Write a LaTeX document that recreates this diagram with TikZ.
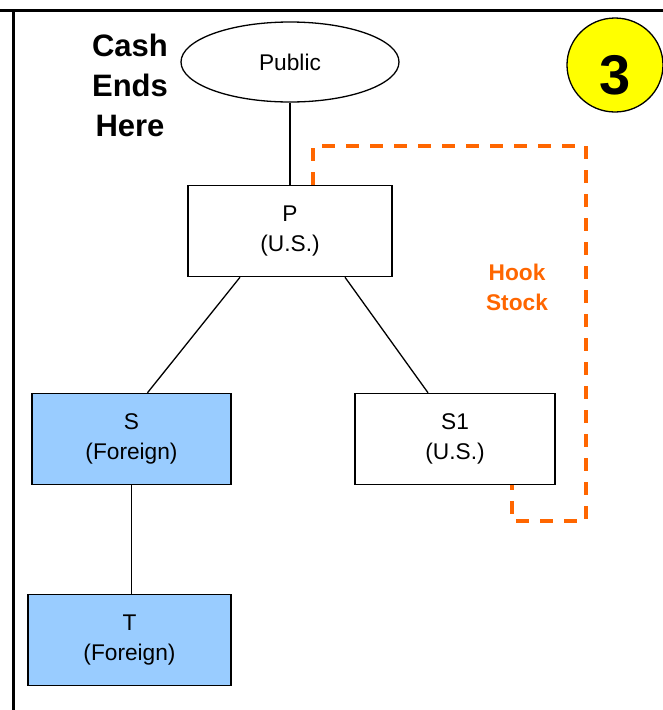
\documentclass[tikz,border=0pt]{standalone}
\usepackage{fontspec}
\setmainfont{Liberation Sans}
\usetikzlibrary{shapes.geometric, calc}
\definecolor{foreignblue}{HTML}{99CCFF}
\definecolor{hookorange}{HTML}{FF6600}
\definecolor{badgeyellow}{HTML}{FFFF00}

\begin{document}
\begin{tikzpicture}[x=1pt, y=-1pt,
        entity/.style={draw, line width=1.5pt, minimum height=91pt, align=center, inner sep=0pt, font=\fontsize{22.7}{30}\selectfont},
        foreign/.style={entity, fill=foreignblue},
        link/.style={line width=1.3pt},
        hook/.style={hookorange, line width=3.5pt, dash pattern=on 13pt off 11pt}]
        \useasboundingbox (0, 0) rectangle (663, 710);

        % frame of the slide
        \draw[line width=3pt] (0, 10) -- (663, 10);
        \draw[line width=3pt] (13, 10) -- (13, 710);

        \node[draw, ellipse, line width=1.3pt, minimum width=218pt, minimum height=80pt, inner sep=0pt, font=\fontsize{22.7}{30}\selectfont] (public) at (290, 62) {Public};
        \node[entity, minimum width=204pt] (P) at (290, 231) {P\\(U.S.)};
        \node[foreign, minimum width=199pt] (S) at (131.5, 439) {S\\(Foreign)};
        \node[entity, minimum width=200pt] (S1) at (455, 439) {S1\\(U.S.)};
        \node[foreign, minimum width=203pt] (T) at (129.5, 640) {T\\(Foreign)};

        \draw[link] (public.south) -- (P.north);
        \draw[link] ([xshift=-50pt]P.south) -- ([xshift=16pt]S.north);
        \draw[link] ([xshift=55pt]P.south) -- ([xshift=-27pt]S1.north);
        \draw[link] (S.south) -- (S.south |- T.north);

        % hook stock loop
        \coordinate (hookcorner) at (586, 146);
        \coordinate (hookfoot) at (512, 521);
        \draw[hook] ([xshift=23pt]P.north) |- (hookcorner) |- (hookfoot) -- (hookfoot |- S1.south);

        \node[align=center, font=\bfseries\fontsize{31}{40}\selectfont] (cash) at (130, 85) {Cash\\Ends\\Here};
        \node[align=center, text=hookorange, font=\bfseries\fontsize{22.7}{30}\selectfont] (hooklabel) at (517, 287) {Hook\\Stock};

        \node[draw, ellipse, fill=badgeyellow, line width=1.3pt, minimum width=96pt, minimum height=94pt, inner sep=0pt, text height=60pt, font=\bfseries\fontsize{56}{56}\selectfont] (badge) at (615, 65) {3};
\end{tikzpicture}
\end{document}
